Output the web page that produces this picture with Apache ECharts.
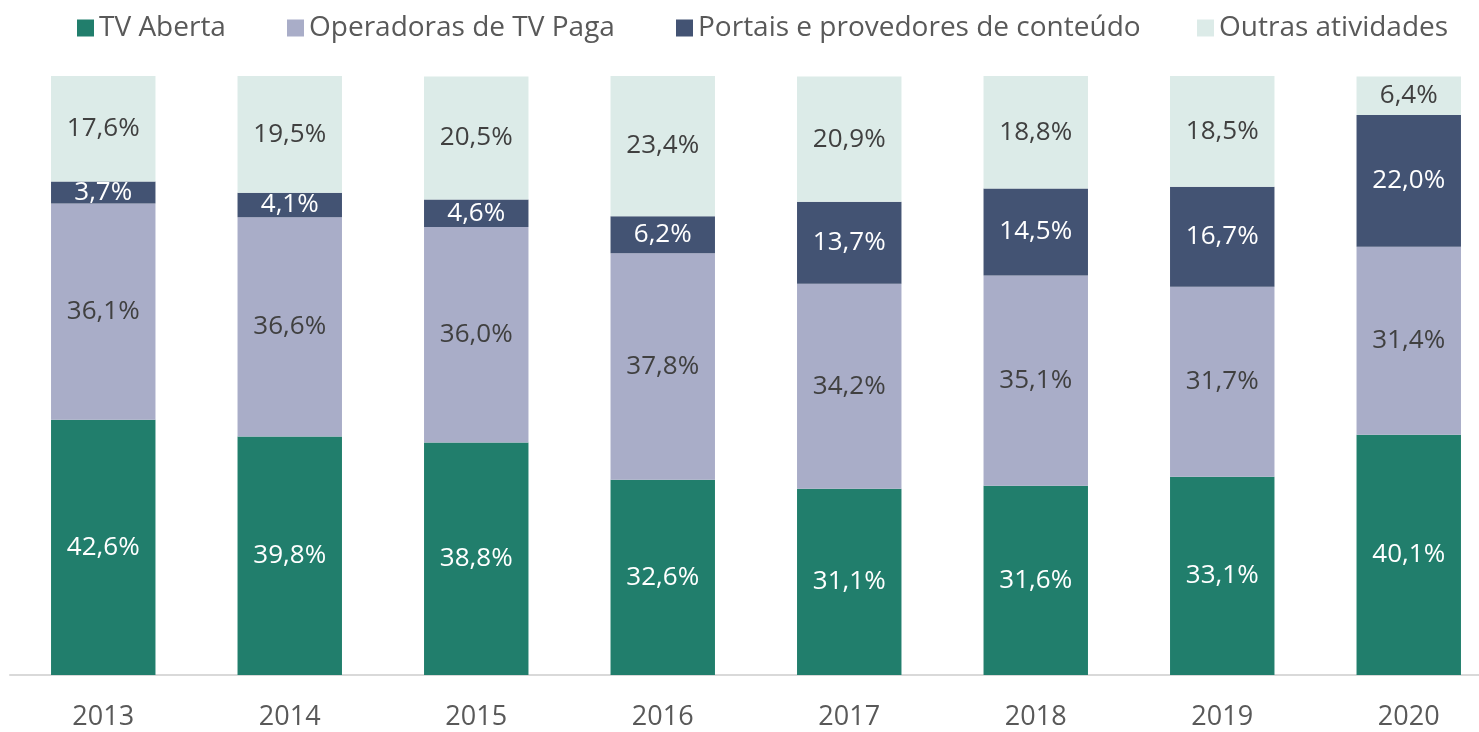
<!DOCTYPE html>
<html>
<head>
<meta charset="utf-8">
<script src="https://cdn.jsdelivr.net/npm/echarts@6/dist/echarts.min.js"></script>
<style>
  html, body { margin: 0; padding: 0; background: #fff; }
  #chart { width: 1479px; height: 732px; }
</style>
</head>
<body>
<div id="chart"></div>
<script>
const years = ['2013', '2014', '2015', '2016', '2017', '2018', '2019', '2020']
const seriesNames = ['TV Aberta', 'Operadoras de TV Paga', 'Portais e provedores de conteúdo', 'Outras atividades']
const tvAberta = [42.6, 39.8, 38.8, 32.6, 31.1, 31.6, 33.1, 40.1]
const tvPaga = [36.1, 36.6, 36.0, 37.8, 34.2, 35.1, 31.7, 31.4]
const portais = [3.7, 4.1, 4.6, 6.2, 13.7, 14.5, 16.7, 22.0]
const outras = [17.6, 19.5, 20.5, 23.4, 20.9, 18.8, 18.5, 6.4]

const fontFamily = '"Open Sans", "Noto Sans", sans-serif'

// formato brasileiro: vírgula decimal
function fmt(p) {
  return p.value.toFixed(1).replace('.', ',') + '%'
}

function serie(name, data, color, labelColor) {
  return {
    name: name,
    type: 'bar',
    stack: 'total',
    barWidth: '56%',
    data: data,
    itemStyle: { color: color },
    label: {
      show: true,
      position: 'inside',
      formatter: fmt,
      color: labelColor,
      fontSize: 26,
      fontFamily: fontFamily
    }
  }
}

// legenda: uma por item, como colunas fixas do Excel
const legendLeft = [72, 282, 671, 1192]
const legends = seriesNames.map((name, i) => ({
  data: [name],
  top: 9,
  left: legendLeft[i],
  itemWidth: 17,
  itemHeight: 17,
  icon: 'rect',
  textStyle: { fontSize: 28, color: '#595959', fontFamily: fontFamily }
}))

const chart = echarts.init(document.getElementById('chart'))
chart.setOption({
  animation: false,
  legend: legends,
  grid: {
    left: 10,
    width: 1492,
    top: 76,
    bottom: 57,
    outerBoundsMode: 'none'
  },
  xAxis: {
    type: 'category',
    data: years,
    axisTick: { show: false },
    axisLine: { lineStyle: { color: '#d9d9d9', width: 2 } },
    axisLabel: { fontSize: 27, color: '#595959', margin: 29, fontFamily: fontFamily }
  },
  yAxis: {
    type: 'value',
    min: 0,
    max: 100,
    show: false
  },
  series: [
    serie(seriesNames[0], tvAberta, '#217e6c', '#ffffff'),
    serie(seriesNames[1], tvPaga, '#a9adc8', '#404040'),
    serie(seriesNames[2], portais, '#435373', '#ffffff'),
    serie(seriesNames[3], outras, '#dcebe8', '#404040')
  ]
})
</script>
</body>
</html>
